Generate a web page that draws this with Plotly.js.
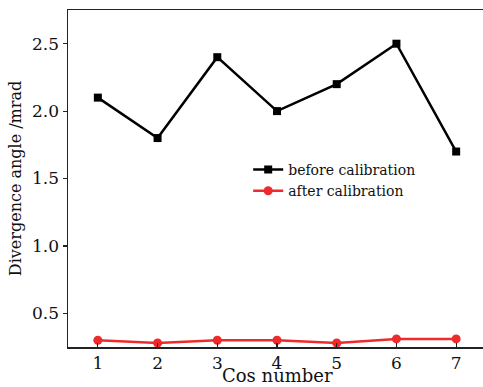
<!DOCTYPE html>
<html>
<head>
<meta charset="utf-8">
<script src="https://cdn.plot.ly/plotly-3.0.1.min.js"></script>
<style>
html,body{margin:0;padding:0;overflow:hidden;background:#fff;}
#chart{width:489px;height:387px;}
</style>
</head>
<body>
<div id="chart"></div>
<script>
var cosNumbers = [1, 2, 3, 4, 5, 6, 7];
var beforeCalibration = [2.1, 1.8, 2.4, 2.0, 2.2, 2.5, 1.7];
var afterCalibration = [0.30, 0.28, 0.30, 0.30, 0.28, 0.31, 0.31];
var yTicks = [0.5, 1.0, 1.5, 2.0, 2.5];
var yTickLabels = ['0.5', '1.0', '1.5', '2.0', '2.5'];

var fontFam = 'DejaVu Serif, serif';

var traces = [
  {
    x: cosNumbers, y: beforeCalibration, name: 'before calibration',
    mode: 'lines+markers', type: 'scatter',
    line: {color: '#000000', width: 2.5},
    marker: {symbol: 'square', size: 8, color: '#000000'}
  },
  {
    x: cosNumbers, y: afterCalibration, name: 'after calibration',
    mode: 'lines+markers', type: 'scatter',
    line: {color: '#ee2a2a', width: 2.5},
    marker: {symbol: 'circle', size: 9, color: '#ee2a2a'}
  }
];

var layout = {
  width: 489, height: 387,
  margin: {l: 68, r: 0, t: 10, b: 40, pad: 0},
  paper_bgcolor: '#ffffff', plot_bgcolor: '#ffffff',
  font: {family: fontFam, size: 17, color: '#111111'},
  showlegend: true,
  legend: {
    x: 0.428, y: 0.573, xanchor: 'left', yanchor: 'top',
    bgcolor: 'rgba(0,0,0,0)', font: {family: fontFam, size: 14, color: '#111111'},
    tracegroupgap: 0
  },
  xaxis: {
    range: [0.5, 7.55], tickvals: cosNumbers, ticktext: cosNumbers.map(String),
    ticks: 'inside', ticklen: 4, tickwidth: 1.2, tickcolor: '#222',
    showline: true, linecolor: '#222', linewidth: 1.5, mirror: true,
    showgrid: false, zeroline: false,
    tickfont: {family: fontFam, size: 17}
  },
  yaxis: {
    range: [0.25, 2.75], tickvals: yTicks, ticktext: yTickLabels,
    ticks: 'outside', ticklen: 4, tickwidth: 1.2, tickcolor: '#222',
    showline: true, linecolor: '#222', linewidth: 1.5, mirror: false,
    showgrid: false, zeroline: false,
    tickfont: {family: fontFam, size: 17},
    title: {text: 'Divergence angle /mrad', font: {family: fontFam, size: 16}, standoff: 6}
  },
  annotations: [{
    text: 'Cos number', xref: 'paper', yref: 'paper', x: 0.497, y: -0.1187,
    xanchor: 'center', yanchor: 'bottom', showarrow: false, borderpad: 0,
    font: {family: fontFam, size: 18, color: '#111111'}
  }]
};

Plotly.newPlot('chart', traces, layout, {staticPlot: true, displayModeBar: false});
</script>
</body>
</html>
